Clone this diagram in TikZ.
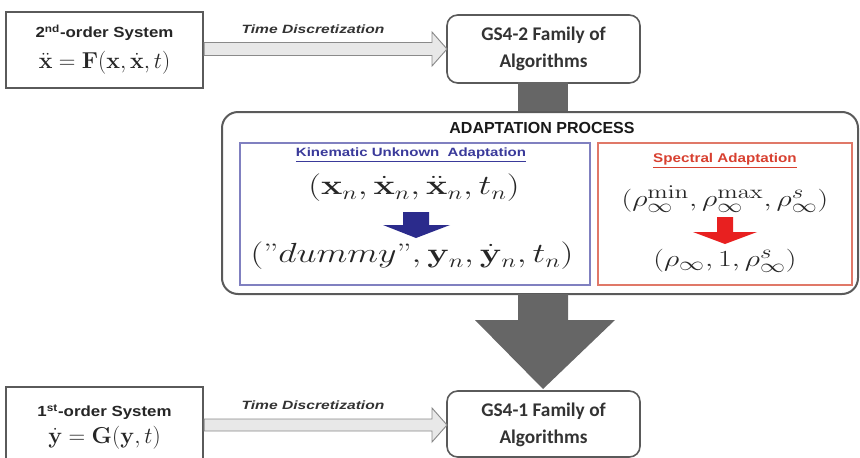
\documentclass[tikz,border=0pt]{standalone}
\usepackage[no-math]{fontspec}
\usepackage{graphicx}
\newfontfamily\arialf{Liberation Sans}
\newfontfamily\calib{Carlito}
\definecolor{boxgray}{HTML}{5A5A5A}
\definecolor{arrgray}{HTML}{666666}
\definecolor{tdfill}{HTML}{E8E8E8}
\definecolor{tdline}{HTML}{8A8A8A}
\definecolor{blueline}{HTML}{8080C0}
\definecolor{bluetxt}{HTML}{3A3A9A}
\definecolor{bluearr}{HTML}{2B2B8C}
\definecolor{redline}{HTML}{E07868}
\definecolor{redtxt}{HTML}{D84030}
\definecolor{redarr}{HTML}{E82020}
\tikzset{
  sysbox/.style={draw=boxgray, line width=1.6pt, fill=white, minimum width=147.75pt, inner sep=0pt},
  gsbox/.style={draw=boxgray, line width=1.2pt, rounded corners=8pt, fill=white, minimum width=144.75pt, inner sep=0pt},
  tdarrow/.style={draw=tdline, fill=tdfill, line width=0.7pt, line join=miter},
  bigarrow/.style={fill=arrgray, draw=none},
  tdlabel/.style={font=\arialf\bfseries\itshape\fontsize{9}{10}\selectfont, text=black!80},
  systitle/.style={font=\arialf\bfseries\fontsize{11}{12}\selectfont, text=black!85},
  gstext/.style={font=\calib\bfseries\fontsize{14.5}{20}\selectfont, text=black!80, align=center},
  mathtxt/.style={text=black!85, inner sep=0pt}
}
\begin{document}
\begin{tikzpicture}[x=0.75pt,y=-0.75pt]
\useasboundingbox (0,0) rectangle (860,457);

% ---- top row ----
\node[sysbox, minimum height=57pt] (sys2) at (104.5,50) {};
\node[systitle] (sys2t) at (104.5,33) {\scalebox{1.15}[1]{2\textsuperscript{nd}-order System}};
\node[mathtxt, font=\fontsize{17.5}{20}\selectfont] (sys2f) at (104.5,63) {$\ddot{\mathbf{x}}=\mathbf{F}(\mathbf{x},\dot{\mathbf{x}},t)$};

\node[gsbox, minimum height=51pt] (gs2) at (543.5,49) {};
\node[gstext] (gs2t) at (543.5,49) {GS4-2 Family of\\Algorithms};

\draw[tdarrow] (sys2.east |- 0,42.5) -- (432,42.5) -- (432,32) -- (447,49) -- (432,66) -- (432,55.5) -- (sys2.east |- 0,55.5) -- cycle;
\node[tdlabel] (td2) at (313,29) {\scalebox{1.3}[1]{Time Discretization}};

% shaft from GS4-2 to adaptation box
\fill[bigarrow] (518,82) rectangle (568,113);

% ---- adaptation process ----
\node[draw=boxgray, line width=1.5pt, rounded corners=12pt, fill=white, minimum width=477pt, minimum height=136.5pt, inner sep=0pt] (adapt) at (540,203) {};
\node[font=\arialf\bfseries\fontsize{12}{14}\selectfont, text=black!90] (adaptt) at (542,128) {\scalebox{1.0}[1]{ADAPTATION PROCESS}};

\node[draw=blueline, line width=1pt, minimum width=262.5pt, minimum height=106.5pt, inner sep=0pt] (blue) at (415,214) {};
\node[draw=redline, line width=1pt, minimum width=190.5pt, minimum height=106.5pt, inner sep=0pt] (red) at (725,214) {};

\node[font=\arialf\bfseries\fontsize{9}{11}\selectfont, text=bluetxt] (bluet) at (411,155) {\scalebox{1.25}[1]{\underline{Kinematic Unknown\ \ Adaptation}}};
\node[mathtxt, font=\fontsize{20}{24}\selectfont] (bluef1) at (414,188) {\scalebox{1.3}[1]{$(\mathbf{x}_n,\dot{\mathbf{x}}_n,\ddot{\mathbf{x}}_n,t_n)$}};
\fill[bluearr] (403,212) -- (429,212) -- (429,225) -- (450,225) -- (416,238) -- (383,225) -- (403,225) -- cycle;
\node[mathtxt, font=\fontsize{20}{24}\selectfont] (bluef2) at (412,256) {\scalebox{1.3}[1]{$(\mbox{''}dummy\mbox{''},\mathbf{y}_n,\dot{\mathbf{y}}_n,t_n)$}};

\node[font=\arialf\bfseries\fontsize{9.5}{11}\selectfont, text=redtxt] (redt) at (725,161) {\scalebox{1.2}[1]{\underline{Spectral Adaptation}}};
\node[mathtxt, font=\fontsize{19}{22}\selectfont] (redf1) at (725,199) {\scalebox{1.3}[1]{$(\rho_\infty^{\min},\rho_\infty^{\max},\rho_\infty^{s})$}};
\fill[redarr] (717,217) -- (733,217) -- (733,232) -- (757,232) -- (725,244) -- (693,232) -- (717,232) -- cycle;
\node[mathtxt, font=\fontsize{19}{22}\selectfont] (redf2) at (725,261) {\scalebox{1.3}[1]{$(\rho_\infty,1,\rho_\infty^{s})$}};

% big arrow down
\fill[bigarrow] (518,294) -- (568,294) -- (568,320) -- (615,320) -- (543,389) -- (475,320) -- (518,320) -- cycle;

% ---- bottom row ----
\node[sysbox, minimum height=56.25pt] (sys1) at (104.5,424.5) {};
\node[systitle] (sys1t) at (104.5,412) {\scalebox{1.15}[1]{1\textsuperscript{st}-order System}};
\node[mathtxt, font=\fontsize{17.5}{20}\selectfont] (sys1f) at (104.5,438) {$\dot{\mathbf{y}}=\mathbf{G}(\mathbf{y},t)$};

\node[gsbox, minimum height=49.5pt] (gs1) at (543.5,424) {};
\node[gstext] (gs1t) at (543.5,425) {GS4-1 Family of\\Algorithms};

\draw[tdarrow] (sys1.east |- 0,419) -- (432,419) -- (432,408) -- (447,425) -- (432,442) -- (432,431) -- (sys1.east |- 0,431) -- cycle;
\node[tdlabel] (td1) at (313,405) {\scalebox{1.3}[1]{Time Discretization}};
\end{tikzpicture}
\end{document}
